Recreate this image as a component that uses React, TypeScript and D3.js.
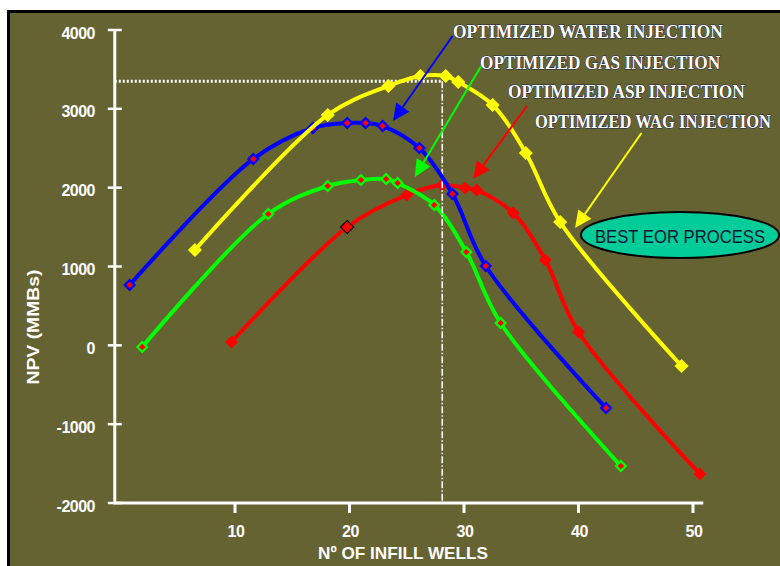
import React, { useLayoutEffect, useRef, useState } from 'react';
import * as d3 from 'd3';

const W = 780;
const H = 566;
const OLIVE = '#666333';

// Axis ticks
const xTicks = [10, 20, 30, 40, 50];
const yTicks = [-2000, -1000, 0, 1000, 2000, 3000, 4000];

// Series: N° of infill wells (x) vs NPV in MMBs (y)
const waterX = [0.8, 11.6, 16.8, 19.8, 21.4, 22.9, 26.1, 29.0, 31.9, 42.4];
const waterY = [765, 2364, 2757, 2820, 2820, 2782, 2503, 1920, 1006, -795];
const gasX = [1.9, 12.9, 18.1, 21.0, 23.2, 24.2, 27.4, 30.2, 33.2, 43.7];
const gasY = [-21, 1666, 2021, 2097, 2110, 2059, 1780, 1184, 283, -1531];
const aspX = [9.7, 19.8, 25.0, 28.1, 30.1, 31.1, 34.3, 37.1, 40.0, 50.6];
const aspY = [42, 1501, 1907, 2034, 1996, 1970, 1679, 1082, 169, -1632];
const wagX = [6.5, 18.1, 23.4, 26.2, 28.4, 29.5, 32.5, 35.4, 38.4, 49.0];
const wagY = [1209, 2922, 3290, 3416, 3416, 3340, 3049, 2440, 1564, -262];

// Optimum reference
const bestWells = 28.1;
const bestNpv = 3350;

// Annotation arrows (data coordinates)
const annoLabels = [
  'OPTIMIZED WATER INJECTION',
  'OPTIMIZED GAS INJECTION',
  'OPTIMIZED ASP INJECTION',
  'OPTIMIZED WAG INJECTION',
];
const annoColors = ['#0000ff', '#00ff00', '#ff0000', '#ffff00'];
const arrowFromX = [29.0, 31.5, 35.5, 45.5];
const arrowFromY = [3924, 3543, 3036, 2693];
const arrowToX = [23.8, 25.7, 30.8, 39.7];
const arrowToY = [2846, 2135, 2110, 1488];
const annoTextX = [453, 480, 508, 535];
const annoTextY = [38, 69, 98, 128];
const annoTextW = [270, 240, 237, 236];

const zip = (xs: number[], ys: number[]) => xs.map((v, i) => [v, ys[i]] as [number, number]);

export default function App() {
  const textRefs = useRef<(SVGTextElement | null)[]>([]);
  const [natural, setNatural] = useState<number[]>([]);

  useLayoutEffect(() => {
    const w = textRefs.current.map((el) => (el ? el.getComputedTextLength() : 0));
    setNatural(w);
  }, []);

  const x = d3.scaleLinear().domain([0, 50]).range([120.5, 693]);
  const y = d3.scaleLinear().domain([-2000, 4000]).range([503, 30]);
  const line = d3
    .line<[number, number]>()
    .x((d) => x(d[0]))
    .y((d) => y(d[1]))
    .curve(d3.curveCatmullRom.alpha(0.5));
  const sq = (size: number) => d3.symbol(d3.symbolSquare, size)() as string;

  const series = [
    { key: 'asp', data: zip(aspX, aspY), color: '#ff0000', fill: '#ff0000', mStroke: 'none', size: 85, sw: 0 },
    { key: 'gas', data: zip(gasX, gasY), color: '#00ff00', fill: '#ff0000', mStroke: '#00ff00', size: 48, sw: 2.2 },
    { key: 'water', data: zip(waterX, waterY), color: '#0000ff', fill: '#ff0000', mStroke: '#0000ff', size: 48, sw: 2.2 },
    { key: 'wag', data: zip(wagX, wagY), color: '#ffff00', fill: '#ffff00', mStroke: 'none', size: 100, sw: 0 },
  ];

  const drawSeries = (s: typeof series[number]) => (
    <g key={s.key}>
      <path d={line(s.data) || ''} fill="none" stroke={s.color} strokeWidth={4} strokeLinejoin="round" />
      {s.data.map((d, i) => (
        <path
          key={i}
          d={sq(s.size)}
          transform={`translate(${x(d[0])},${y(d[1])}) rotate(45)`}
          fill={s.fill}
          stroke={s.key === 'asp' && i === 1 ? '#000' : s.mStroke}
          strokeWidth={s.key === 'asp' && i === 1 ? 1.2 : s.sw}
        />
      ))}
    </g>
  );

  const x0 = x(-0.5);
  const x1 = x(50.9);
  const yBase = y(-2000);
  const yTop = y(4000);

  return (
    <svg
      width={W}
      height={H}
      style={{ position: 'absolute', left: 0, top: 0, display: 'block' }}
      fontFamily="'Liberation Sans', Arial, sans-serif"
    >
      <rect width={W} height={H} fill="#ffffff" />
      <rect x={7} y={10} width={W - 7} height={H - 10} fill="#000000" />
      <rect x={10} y={13} width={W - 10} height={H - 13} fill={OLIVE} />

      {/* Axes */}
      <line x1={x0} y1={yTop} x2={x0} y2={yBase} stroke="#fff" strokeWidth={3} />
      <line x1={x0 - 1.5} y1={yBase} x2={x1} y2={yBase} stroke="#fff" strokeWidth={3} />
      {yTicks.map((t) => (
        <g key={t}>
          <line x1={x0 - 7} x2={x0 + 7} y1={y(t)} y2={y(t)} stroke="#fff" strokeWidth={2.5} />
          <text
            x={95}
            y={y(t) + 3}
            textAnchor="end"
            dominantBaseline="central"
            fill="#fff"
            fontWeight="bold"
            fontSize={16}
            letterSpacing={-0.5}
          >
            {t}
          </text>
        </g>
      ))}
      {xTicks.map((t) => (
        <g key={t}>
          <line x1={x(t)} x2={x(t)} y1={yBase} y2={yBase + 10} stroke="#fff" strokeWidth={3} />
          <text x={x(t) + 1} y={537} textAnchor="middle" fill="#fff" fontWeight="bold" fontSize={16} letterSpacing={-0.5}>
            {t}
          </text>
        </g>
      ))}

      <text
        transform="translate(33,327) rotate(-90)"
        textAnchor="middle"
        dominantBaseline="central"
        fill="#fff"
        fontWeight="bold"
        fontSize={16}
        textLength={115}
        lengthAdjust="spacingAndGlyphs"
      >
        NPV (MMBs)
      </text>
      <text
        x={403}
        y={559}
        textAnchor="middle"
        fill="#fff"
        fontWeight="bold"
        fontSize={17}
        textLength={170}
        lengthAdjust="spacingAndGlyphs"
      >
        Nº OF INFILL WELLS
      </text>

      {drawSeries(series[0])}
      {drawSeries(series[1])}

      {/* Optimum reference lines */}
      <line
        x1={x0}
        x2={x(bestWells)}
        y1={y(bestNpv)}
        y2={y(bestNpv)}
        stroke="#fff"
        strokeWidth={3}
        strokeDasharray="2,2"
      />
      <line
        x1={x(bestWells)}
        x2={x(bestWells)}
        y1={y(bestNpv)}
        y2={yBase}
        stroke="#fff"
        strokeWidth={1.6}
        strokeDasharray="7,2,1.5,2"
      />

      {drawSeries(series[2])}
      {drawSeries(series[3])}

      {/* Best EOR process ellipse */}
      <ellipse cx={680} cy={235} rx={99} ry={23} fill="#00cc99" stroke="#000" strokeWidth={2} />
      <text
        x={595}
        y={243}
        fill="#0b1633"
        fontSize={18}
        textLength={170}
        lengthAdjust="spacingAndGlyphs"
      >
        BEST EOR PROCESS
      </text>

      {/* Annotation arrows */}
      {annoLabels.map((lab, i) => {
        const sx = x(arrowFromX[i]);
        const sy = y(arrowFromY[i]);
        const tx = x(arrowToX[i]);
        const ty = y(arrowToY[i]);
        const dx = tx - sx;
        const dy = ty - sy;
        const len = Math.hypot(dx, dy);
        const ux = dx / len;
        const uy = dy / len;
        const hl = 17;
        const hw = 8;
        const bx = tx - ux * hl;
        const by = ty - uy * hl;
        const head = `M${tx},${ty}L${bx - uy * hw},${by + ux * hw}L${bx + uy * hw},${by - ux * hw}Z`;
        const nat = natural[i];
        const sxScale = nat ? annoTextW[i] / nat : 0.83;
        return (
          <g key={lab}>
            <line x1={sx} y1={sy} x2={bx} y2={by} stroke={annoColors[i]} strokeWidth={2} />
            <path d={head} fill={annoColors[i]} />
            <text
              ref={(el) => {
                textRefs.current[i] = el;
              }}
              transform={`translate(${annoTextX[i]},${annoTextY[i]}) scale(${sxScale},1)`}
              fill="#fff"
              stroke="#1c1f45"
              strokeWidth={1}
              paintOrder="stroke"
              fontFamily="'Liberation Serif', 'Times New Roman', serif"
              fontWeight="bold"
              fontSize={18}
            >
              {lab}
            </text>
          </g>
        );
      })}
    </svg>
  );
}
